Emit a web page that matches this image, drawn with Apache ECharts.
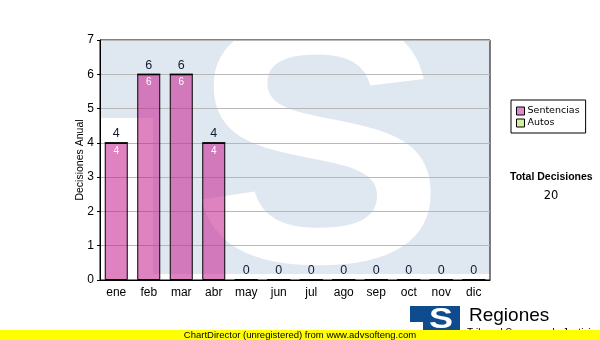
<!DOCTYPE html>
<html>
<head>
<meta charset="utf-8">
<script src="https://cdn.jsdelivr.net/npm/echarts@6/dist/echarts.min.js"></script>
<style>
html,body{margin:0;padding:0;background:#fff;}
#chart{width:600px;height:340px;}
</style>
</head>
<body>
<div id="chart"></div>
<script>
const months = ['ene','feb','mar','abr','may','jun','jul','ago','sep','oct','nov','dic'];
const sentencias = [4,6,6,4,0,0,0,0,0,0,0,0];
const autos = [0,0,0,0,0,0,0,0,0,0,0,0];
const seriesNames = ['Sentencias','Autos'];
const yMin = 0, yMax = 7, yStep = 1;
const totals = months.map((m,i)=>sentencias[i]+autos[i]);
const grandTotal = totals.reduce((a,b)=>a+b,0);

const chart = echarts.init(document.getElementById('chart'), null, {renderer:'canvas'});
const F = '"Liberation Sans", Arial, sans-serif';
const wmBlue = '#dfe8f1';

chart.setOption({
  animation:false,
  backgroundColor:'#fff',
  grid:{left:100, top:40, right:110, bottom:60, show:true, borderColor:'#000', borderWidth:1, backgroundColor:'transparent', containLabel:false},
  legend:{
    orient:'vertical', left:511, top:100, width:60,
    borderColor:'#000', borderWidth:1, borderRadius:0, backgroundColor:'#fff',
    padding:[6,6,5,5], itemGap:2, itemWidth:8, itemHeight:8, icon:'rect',
    itemStyle:{borderColor:'#000', borderWidth:1},
    textStyle:{fontFamily:'"DejaVu Sans", Verdana, sans-serif', fontSize:9.5, color:'#000', padding:[0,0,0,-2]},
    data:[{name:seriesNames[0], itemStyle:{color:'#e08acb'}},{name:seriesNames[1], itemStyle:{color:'#d4ee9e'}}]
  },
  xAxis:{
    type:'category', data:months,
    axisLine:{lineStyle:{color:'#000', width:1}},
    axisTick:{alignWithLabel:true, length:4, lineStyle:{color:'#000'}},
    axisLabel:{color:'#000', fontFamily:F, fontSize:12, margin:7}
  },
  yAxis:{
    type:'value', min:yMin, max:yMax, interval:yStep,
    name:'Decisiones Anual', nameLocation:'middle', nameGap:14, nameMoveOverlap:false,
    nameTextStyle:{fontFamily:F, fontSize:10.5, color:'#000'},
    axisLine:{show:true, lineStyle:{color:'#000'}},
    axisTick:{show:true, length:3, lineStyle:{color:'#000'}},
    axisLabel:{color:'#000', fontFamily:F, fontSize:12, margin:6},
    splitLine:{lineStyle:{color:'#b8b8b8', width:1}}
  },
  graphic:[
    {type:'rect', z:-10, shape:{x:100, y:40, width:390, height:78}, style:{fill:wmBlue}},
    {type:'rect', z:-10, shape:{x:153, y:118, width:337, height:156}, style:{fill:wmBlue}},
    {type:'text', z:-9, x:318, y:166, scaleX:1.1, style:{text:'S', font:'bold 348px "Liberation Sans", Arial, sans-serif', fill:'#fff', align:'center', verticalAlign:'middle'}},
    {type:'text', left:510, top:172, style:{text:'Total Decisiones', font:'bold 10.5px "Liberation Sans", Arial, sans-serif', fill:'#000'}},
    {type:'text', x:551, y:196, style:{text:String(grandTotal), font:'11.5px "DejaVu Sans", Verdana, sans-serif', fill:'#000', align:'center', verticalAlign:'middle'}},
    {type:'rect', shape:{x:410, y:306, width:50, height:16}, style:{fill:'#0f4c8e'}},
    {type:'rect', shape:{x:423, y:306, width:37, height:26}, style:{fill:'#0f4c8e'}},
    {type:'text', x:441, y:320, scaleX:1.2, style:{text:'S', font:'bold 30px "Liberation Sans", Arial, sans-serif', fill:'#fff', align:'center', verticalAlign:'middle'}},
    {type:'text', x:469, y:316, style:{text:'Regiones', font:'19px "Liberation Sans", Arial, sans-serif', fill:'#000', align:'left', verticalAlign:'middle'}},
    {type:'text', x:467, y:333, style:{text:'Tribunal Supremo de Justicia', font:'10px "Liberation Sans", Arial, sans-serif', fill:'#000', align:'left', verticalAlign:'middle'}},
    {type:'rect', z:20, shape:{x:0, y:330, width:600, height:10}, style:{fill:'#ffff00'}},
    {type:'text', z:21, x:300, y:335.5, style:{text:'ChartDirector (unregistered) from www.advsofteng.com', font:'9.5px "Liberation Sans", Arial, sans-serif', fill:'#000', align:'center', verticalAlign:'middle'}}
  ],
  series:[
    {
      name:seriesNames[0], type:'bar', stack:'a', data:sentencias, barWidth:23,
      itemStyle:{color:'rgba(196,30,140,0.55)', borderColor:'#000', borderWidth:1},
      label:{show:true, position:'insideTop', distance:3, color:'#fff', fontFamily:F, fontSize:10,
        formatter:p=>p.value>0?String(p.value):''}
    },
    {
      name:seriesNames[1], type:'bar', stack:'a', data:autos, barWidth:23,
      itemStyle:{color:'rgba(200,235,130,0.6)', borderColor:'#000', borderWidth:1},
      label:{show:true, position:'top', distance:2, color:'#111a33', fontFamily:F, fontSize:12.5,
        formatter:p=>String(totals[p.dataIndex])}
    }
  ]
});
</script>
</body>
</html>
